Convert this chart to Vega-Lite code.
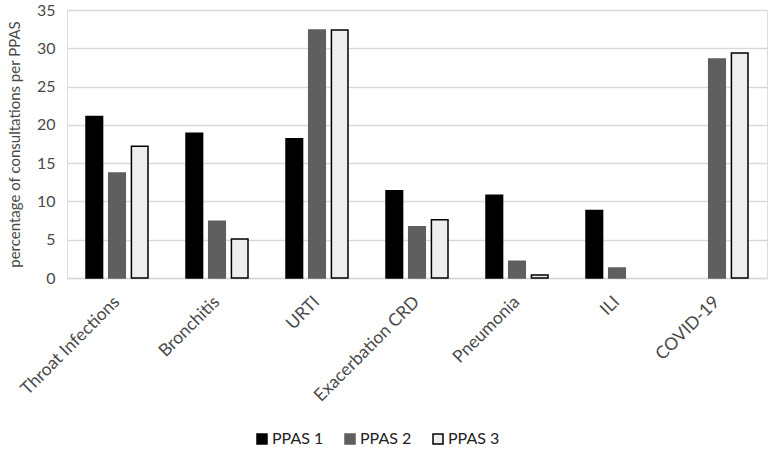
{
  "$schema": "https://vega.github.io/schema/vega-lite/v6.json",
  "width": 700,
  "height": 268,
  "autosize": {"type": "none"},
  "padding": {"left": 67, "top": 10, "right": 4, "bottom": 179},
  "background": "white",
  "data": {
    "values": [
      {"condition": "Throat Infections", "series": "PPAS 1", "pct": 21.1},
      {"condition": "Throat Infections", "series": "PPAS 2", "pct": 13.7},
      {"condition": "Throat Infections", "series": "PPAS 3", "pct": 17.2},
      {"condition": "Bronchitis", "series": "PPAS 1", "pct": 18.9},
      {"condition": "Bronchitis", "series": "PPAS 2", "pct": 7.4},
      {"condition": "Bronchitis", "series": "PPAS 3", "pct": 5.1},
      {"condition": "URTI", "series": "PPAS 1", "pct": 18.2},
      {"condition": "URTI", "series": "PPAS 2", "pct": 32.4},
      {"condition": "URTI", "series": "PPAS 3", "pct": 32.4},
      {"condition": "Exacerbation CRD", "series": "PPAS 1", "pct": 11.4},
      {"condition": "Exacerbation CRD", "series": "PPAS 2", "pct": 6.7},
      {"condition": "Exacerbation CRD", "series": "PPAS 3", "pct": 7.6},
      {"condition": "Pneumonia", "series": "PPAS 1", "pct": 10.8},
      {"condition": "Pneumonia", "series": "PPAS 2", "pct": 2.2},
      {"condition": "Pneumonia", "series": "PPAS 3", "pct": 0.4},
      {"condition": "ILI", "series": "PPAS 1", "pct": 8.8},
      {"condition": "ILI", "series": "PPAS 2", "pct": 1.3},
      {"condition": "ILI", "series": "PPAS 3", "pct": 0},
      {"condition": "COVID-19", "series": "PPAS 1", "pct": 0},
      {"condition": "COVID-19", "series": "PPAS 2", "pct": 28.6},
      {"condition": "COVID-19", "series": "PPAS 3", "pct": 29.4}
    ]
  },
  "transform": [{"filter": "datum.pct > 0"}],
  "mark": {"type": "bar", "strokeWidth": 1.5},
  "encoding": {
    "x": {
      "field": "condition",
      "type": "nominal",
      "sort": null,
      "scale": {"paddingInner": 0.38, "paddingOuter": 0.19},
      "axis": {
        "title": null,
        "labelAngle": -45,
        "labelAlign": "right",
        "labelBaseline": "middle",
        "labelPadding": 21,
        "labelFont": "Lato",
        "labelFontSize": 17.5,
        "labelColor": "#4a4a4a",
        "ticks": false,
        "domainColor": "#d9d9d9",
        "domainWidth": 1.5
      }
    },
    "xOffset": {
      "field": "series",
      "type": "nominal",
      "scale": {"paddingInner": 0.27}
    },
    "y": {
      "field": "pct",
      "type": "quantitative",
      "scale": {"domain": [0, 35], "nice": false},
      "axis": {
        "title": "percentage of consultations per PPAS",
        "titleFont": "Lato",
        "titleFontSize": 15,
        "titleFontWeight": "normal",
        "titleColor": "#4a4a4a",
        "titlePadding": 14,
        "values": [0, 5, 10, 15, 20, 25, 30, 35],
        "labelFont": "Lato",
        "labelFontSize": 16,
        "labelColor": "#4a4a4a",
        "labelPadding": 12,
        "domain": false,
        "ticks": false,
        "gridColor": "#d9d9d9",
        "gridWidth": 1.5
      }
    },
    "fill": {
      "field": "series",
      "type": "nominal",
      "scale": {
        "domain": ["PPAS 1", "PPAS 2", "PPAS 3"],
        "range": ["#000000", "#5f5f5f", "#eeeeee"]
      },
      "legend": {
        "title": null,
        "orient": "none",
        "direction": "horizontal",
        "legendX": 187,
        "legendY": 421,
        "symbolType": "square",
        "symbolSize": 100,
        "symbolStrokeWidth": 1.5,
        "labelFont": "Lato",
        "labelFontSize": 16,
        "labelColor": "#222222",
        "columnPadding": 18,
        "labelOffset": 2
      }
    },
    "stroke": {
      "field": "series",
      "type": "nominal",
      "scale": {
        "domain": ["PPAS 1", "PPAS 2", "PPAS 3"],
        "range": ["#000000", "#5f5f5f", "#000000"]
      },
      "legend": null
    }
  }
}
